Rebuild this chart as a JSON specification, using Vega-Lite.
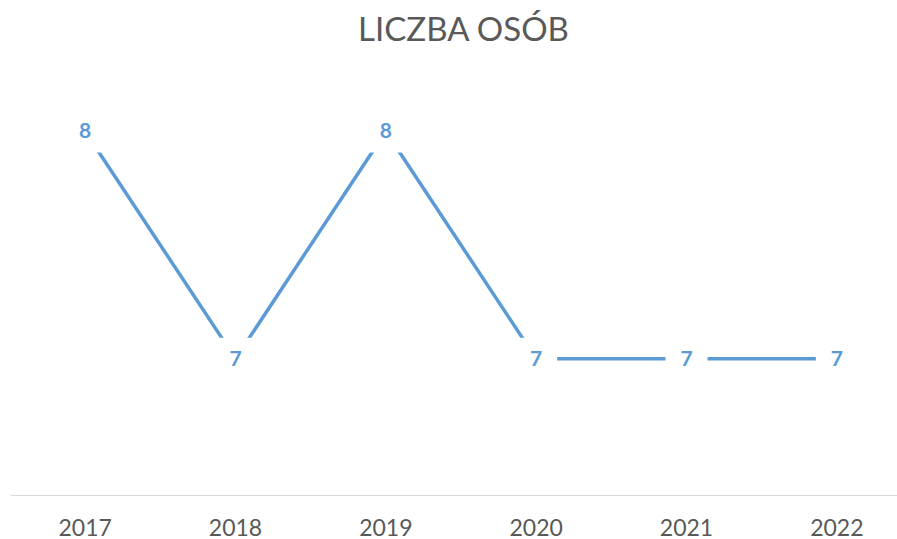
{
  "$schema": "https://vega.github.io/schema/vega-lite/v6.json",
  "autosize": {"type": "none"},
  "padding": {"left": 10, "top": 86, "right": 0, "bottom": 44},
  "width": 887,
  "height": 409,
  "background": "white",
  "config": {"view": {"stroke": null}},
  "title": {"text": "LICZBA OSÓB", "fontSize": 33, "font": "Lato", "fontWeight": "normal", "color": "#595959", "anchor": "middle", "offset": 38, "dx": 10},
  "data": {"values": [
    {"year": "2017", "value": 8},
    {"year": "2018", "value": 7},
    {"year": "2019", "value": 8},
    {"year": "2020", "value": 7},
    {"year": "2021", "value": 7},
    {"year": "2022", "value": 7}
  ]},
  "encoding": {
    "x": {"field": "year", "type": "ordinal", "scale": {"type": "band", "range": [0, 902], "paddingInner": 0, "paddingOuter": 0},
      "axis": {"title": null, "labelAngle": 0, "ticks": false, "grid": false, "labelPadding": 22, "labelFontSize": 23, "labelColor": "#595959", "labelFont": "Lato", "domainColor": "#D9D9D9", "domainWidth": 1}},
    "y": {"field": "value", "type": "quantitative", "scale": {"domain": [6.4, 8.2], "nice": false, "zero": false}, "axis": null}
  },
  "layer": [
    {"mark": {"type": "line", "color": "#5B9BD5", "strokeWidth": 3.5}},
    {"mark": {"type": "point", "shape": "square", "filled": true, "color": "white", "opacity": 1, "size": 1764}},
    {"mark": {"type": "text", "font": "Lato", "fontWeight": "bold", "fontSize": 21, "color": "#5B9BD5", "align": "center", "baseline": "middle", "dy": 1},
      "encoding": {"text": {"field": "value", "type": "quantitative"}}}
  ]
}
